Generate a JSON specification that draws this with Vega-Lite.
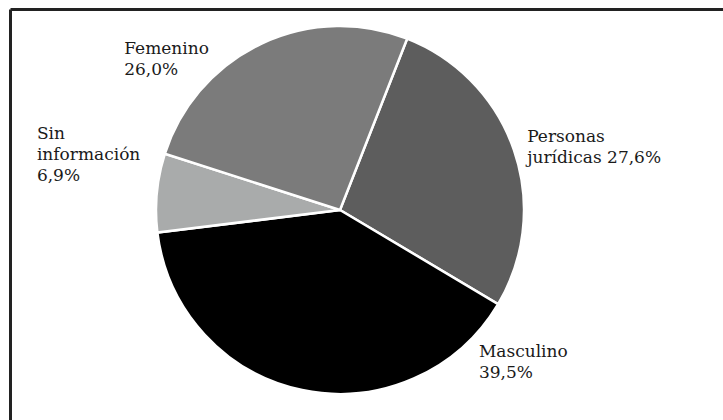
{
  "$schema": "https://vega.github.io/schema/vega-lite/v6.json",
  "width": 660,
  "height": 402,
  "autosize": {"type": "none"},
  "padding": {"left": 10, "top": 9, "right": 53, "bottom": 9},
  "background": "white",
  "config": {"view": {"stroke": null}},
  "data": {
    "values": [
      {"categoria": "Personas jurídicas", "valor": 27.6, "orden": 1, "etiqueta": "Personas\njurídicas 27,6%"},
      {"categoria": "Masculino", "valor": 39.5, "orden": 2, "etiqueta": "Masculino\n39,5%"},
      {"categoria": "Sin información", "valor": 6.9, "orden": 3, "etiqueta": "Sin\ninformación\n6,9%"},
      {"categoria": "Femenino", "valor": 26.0, "orden": 4, "etiqueta": "Femenino\n26,0%"}
    ]
  },
  "layer": [
    {
      "mark": {"type": "point", "opacity": 0},
      "encoding": {
        "x": {
          "field": "valor",
          "type": "quantitative",
          "scale": {"range": [0, 713]},
          "axis": {"orient": "top", "title": null, "labels": false, "ticks": false, "grid": false, "domainColor": "#222222", "domainWidth": 3}
        },
        "y": {
          "field": "valor",
          "type": "quantitative",
          "scale": {"range": [411, 0]},
          "axis": {"orient": "left", "title": null, "labels": false, "ticks": false, "grid": false, "domainColor": "#222222", "domainWidth": 3}
        }
      }
    },
    {
      "mark": {"type": "arc", "outerRadius": 184, "stroke": "white", "strokeWidth": 2.5},
      "encoding": {
        "theta": {"field": "valor", "type": "quantitative", "stack": true, "scale": {"range": [0.3735, 6.6567]}},
        "order": {"field": "orden", "type": "quantitative"},
        "color": {
          "field": "categoria",
          "type": "nominal",
          "scale": {
            "domain": ["Personas jurídicas", "Masculino", "Sin información", "Femenino"],
            "range": ["#5d5d5d", "#000000", "#a9abab", "#7b7b7b"]
          },
          "legend": null
        }
      }
    },
    {
      "mark": {
        "type": "text",
        "radius": 200,
        "align": "left",
        "baseline": "alphabetic",
        "font": "DejaVu Serif",
        "fontSize": 17,
        "lineHeight": 21,
        "lineBreak": "\n",
        "fill": "#1a1a1a",
        "dx": {"expr": "datum.categoria === 'Masculino' ? 180 : datum.categoria === 'Sin información' ? -104 : datum.categoria === 'Femenino' ? -130 : -2"},
        "dy": {"expr": "datum.categoria === 'Masculino' ? -49 : datum.categoria === 'Sin información' ? -52 : datum.categoria === 'Femenino' ? 25 : -3"}
      },
      "encoding": {
        "theta": {"field": "valor", "type": "quantitative", "stack": true, "scale": {"range": [0.3735, 6.6567]}},
        "order": {"field": "orden", "type": "quantitative"},
        "detail": {"field": "categoria", "type": "nominal"},
        "text": {"field": "etiqueta", "type": "nominal"}
      }
    }
  ]
}
